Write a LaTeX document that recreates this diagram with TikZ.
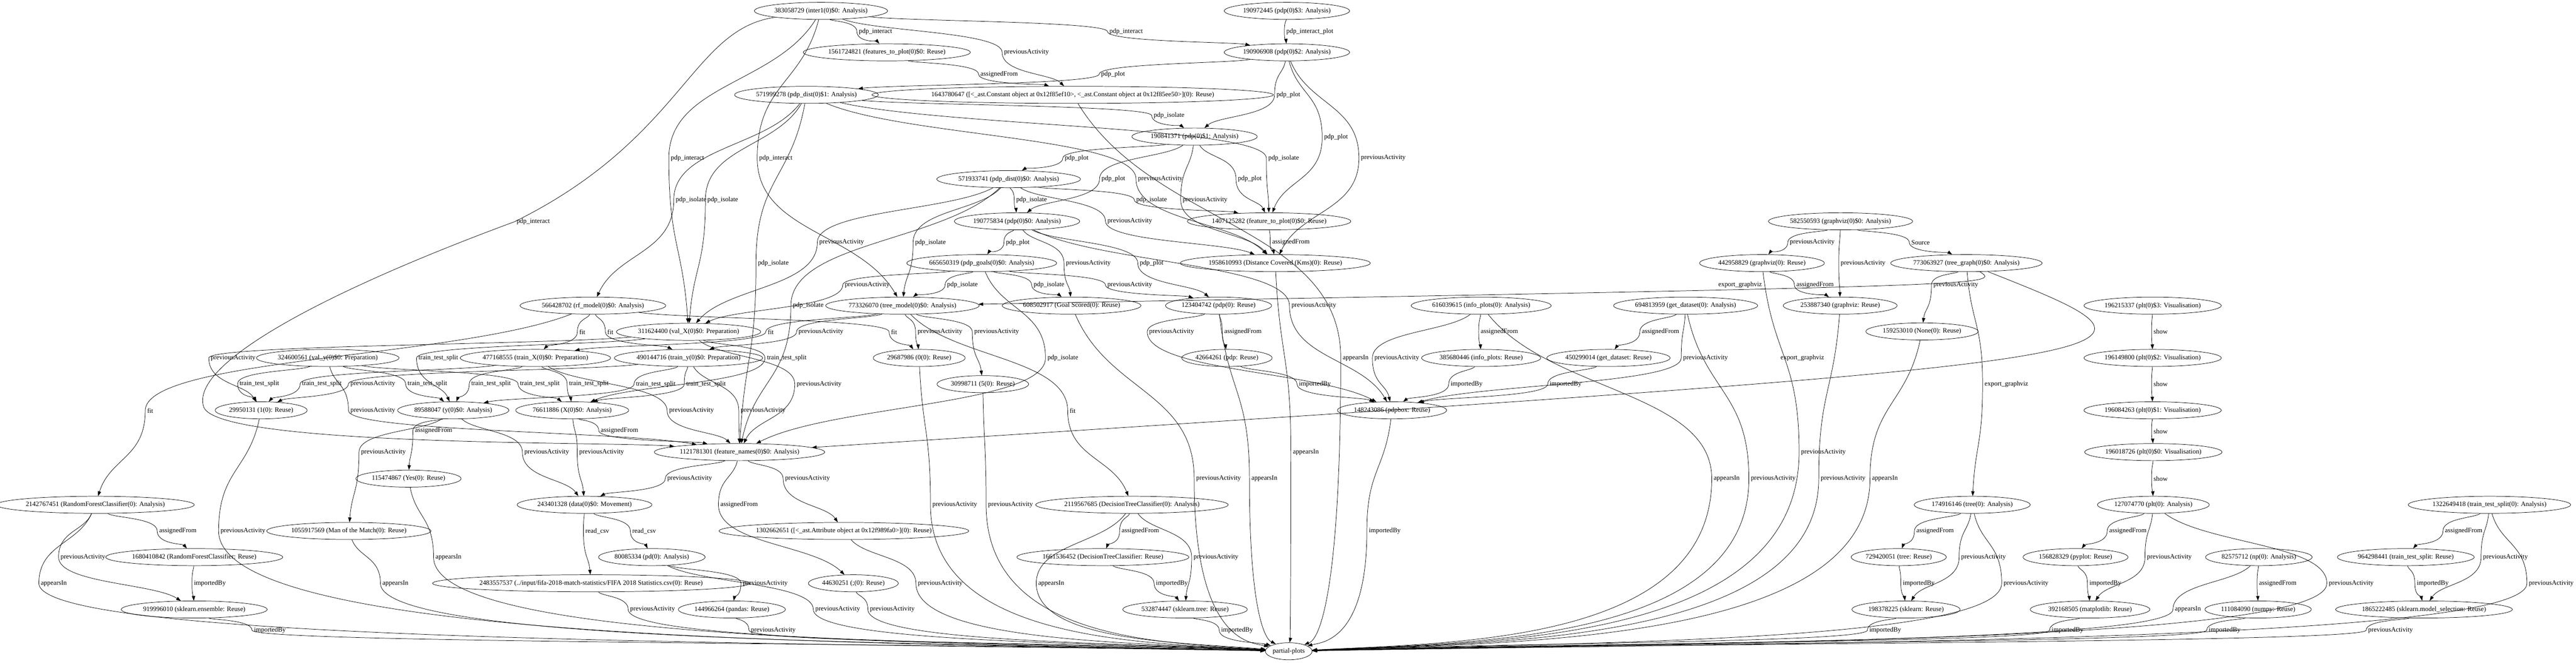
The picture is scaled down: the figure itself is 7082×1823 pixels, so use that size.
\documentclass[tikz,border=0pt]{standalone}
\usepackage{fontspec}
\setmainfont{Liberation Serif}
\usetikzlibrary{shapes.geometric, arrows.meta, calc}

\tikzset{
  gvnode/.style={ellipse, draw, line width=0.8pt, inner xsep=1pt, inner ysep=0pt,
    minimum height=36pt, minimum width=54pt, font=\fontsize{14pt}{16pt}\selectfont},
  gvlabel/.style={inner sep=1pt, font=\fontsize{14pt}{16pt}\selectfont},
  gvline/.style={line width=0.8pt, -{Triangle[length=10pt,width=7pt]}}
}

% an edge: source, target, label name, label position, label text
% (the curve runs down past the left end of its label)
\newcommand{\gvedge}[5]{%
  \node[gvlabel] (#3) at (#4) {#5};
  \coordinate (lw) at ($(#3.west)+(-4,0)$);
  \coordinate (m1) at ($(#1)!0.5!(lw)$);
  \coordinate (m2) at ($(lw)!0.5!(#2)$);
  \coordinate (q1) at ($(#1)!0.3!(lw)$);
  \coordinate (q2) at ($(#2)!0.3!(lw)$);
  \draw[gvline] (#1) .. controls (q1 |- m1) and (lw |- m1) .. (lw)
    .. controls (lw |- m2) and (q2 |- m2) .. (#2);}
% a long flat edge
\newcommand{\gvflat}[5]{%
  \node[gvlabel] (#3) at (#4) {#5};
  \draw[gvline] (#1) .. controls ($2*(#3.west)-0.5*(#1)-0.5*(#2)$) .. (#2);}
% an edge that ends in the partial-plots node
\newcommand{\gvsink}[4]{%
  \node[gvlabel] (#2) at (#3) {#4};
  \coordinate (lw) at ($(#2.west)+(-4,0)$);
  \coordinate (m1) at ($(#1)!0.5!(lw)$);
  \coordinate (q1) at ($(#1)!0.3!(lw)$);
  \coordinate (s1) at (lw |- pp.north);
  \draw[gvline] (#1) .. controls (q1 |- m1) and (lw |- m1) .. (lw)
    .. controls (s1) and ($(s1)!0.6!(pp.north)$) .. (pp);}

\begin{document}
\begin{tikzpicture}[x=0.766pt, y=-0.766pt]
    \useasboundingbox (0,0) rectangle (7082,1823);

    % the pdp activities at the top
    \node[gvnode] (inter1) at (2257,30) {383058729 (inter1(0)\$0: Analysis)};
    \node[gvnode] (pdp3) at (3538,30) {190972445 (pdp(0)\$3: Analysis)};
    \node[gvnode] (featsplot) at (2438,144) {1561724821 (features\_to\_plot(0)\$0: Reuse)};
    \node[gvnode] (pdp2) at (3538,144) {190906908 (pdp(0)\$2: Analysis)};
    \node[gvnode] (dist1) at (2217,261) {571999278 (pdp\_dist(0)\$1: Analysis)};
    \node[gvnode] (constlist) at (2949,261) {1643780647 ([<\_ast.Constant object at 0x12f85ef10>, <\_ast.Constant object at 0x12f85ee50>](0): Reuse)};
    \node[gvnode] (pdp1) at (3284,376) {190841371 (pdp(0)\$1: Analysis)};
    \node[gvnode] (dist0) at (2773,493) {571933741 (pdp\_dist(0)\$0: Analysis)};
    \node[gvnode] (pdp0) at (2796,609) {190775834 (pdp(0)\$0: Analysis)};
    \node[gvnode] (featplot) at (3489,609) {1407125282 (feature\_to\_plot(0)\$0: Reuse)};
    \node[gvnode] (distkms) at (3506,724) {1958610993 (Distance Covered (Kms)(0): Reuse)};
    \node[gvnode] (goals) at (2699,724) {665650319 (pdp\_goals(0)\$0: Analysis)};
    \node[gvnode] (treemodel) at (2481,841) {773326070 (tree\_model(0)\$0: Analysis)};
    \node[gvnode] (goal) at (2946,841) {608502917 (Goal Scored(0): Reuse)};
    \node[gvnode] (pdpr) at (3350,841) {123404742 (pdp(0): Reuse)};
    \node[gvnode] (zero) at (2527,985) {29687986 (0(0): Reuse)};
    \node[gvnode] (five) at (2702,1057) {30998711 (5(0): Reuse)};
    \node[gvnode] (pdpmod) at (3373,985) {42664261 (pdp: Reuse)};

    % graphviz, pdpbox and the plots on the right
    \node[gvnode] (gvz) at (5060,609) {582550593 (graphviz(0)\$0: Analysis)};
    \node[gvnode] (gvzr) at (4844,724) {442958829 (graphviz(0): Reuse)};
    \node[gvnode] (gvzmod) at (5059,841) {253887340 (graphviz: Reuse)};
    \node[gvnode] (treegraph) at (5406,724) {773063927 (tree\_graph(0)\$0: Analysis)};
    \node[gvnode] (nonev) at (5284,912) {159253010 (None(0): Reuse)};
    \node[gvnode] (infoan) at (4072,841) {616039615 (info\_plots(0): Analysis)};
    \node[gvnode] (getdsan) at (4634,841) {694813959 (get\_dataset(0): Analysis)};
    \node[gvnode] (infor) at (4072,985) {385680446 (info\_plots: Reuse)};
    \node[gvnode] (getdsr) at (4422,985) {450299014 (get\_dataset: Reuse)};
    \node[gvnode] (pdpbox) at (3827,1129) {148243086 (pdpbox: Reuse)};
    \node[gvnode] (plt3) at (5918,841) {196215337 (plt(0)\$3: Visualisation)};
    \node[gvnode] (plt2) at (5918,985) {196149800 (plt(0)\$2: Visualisation)};
    \node[gvnode] (plt1) at (5918,1129) {196084263 (plt(0)\$1: Visualisation)};
    \node[gvnode] (plt0) at (5920,1244) {196018726 (plt(0)\$0: Visualisation)};
    \node[gvnode] (pltan) at (5920,1389) {127074770 (plt(0): Analysis)};
    \node[gvnode] (treean) at (5422,1389) {174916146 (tree(0): Analysis)};
    \node[gvnode] (treemod) at (5220,1533) {729420051 (tree: Reuse)};
    \node[gvnode] (sklearn) at (5240,1677) {198378225 (sklearn: Reuse)};
    \node[gvnode] (pyplot) at (5706,1533) {156828329 (pyplot: Reuse)};
    \node[gvnode] (matplotlib) at (5746,1677) {392168505 (matplotlib: Reuse)};
    \node[gvnode] (npan) at (6210,1533) {82575712 (np(0): Analysis)};
    \node[gvnode] (numpy) at (6208,1677) {111084090 (numpy: Reuse)};
    \node[gvnode] (ttsan) at (6844,1389) {1322649418 (train\_test\_split(0): Analysis)};
    \node[gvnode] (ttsr) at (6614,1533) {964298441 (train\_test\_split: Reuse)};
    \node[gvnode] (modsel) at (6664,1677) {1865222485 (sklearn.model\_selection: Reuse)};

    % the models and the data on the left
    \node[gvnode] (rfmodel) at (1630,841) {566428702 (rf\_model(0)\$0: Analysis)};
    \node[gvnode] (valX) at (1893,913) {311624400 (val\_X(0)\$0: Preparation)};
    \node[gvnode] (trainy) at (1893,985) {490144716 (train\_y(0)\$0: Preparation)};
    \node[gvnode] (valy) at (901,985) {324600561 (val\_y(0)\$0: Preparation)};
    \node[gvnode] (trainX) at (1472,985) {477168555 (train\_X(0)\$0: Preparation)};
    \node[gvnode] (one) at (718,1129) {29950131 (1(0): Reuse)};
    \node[gvnode] (yan) at (1246,1129) {89588047 (y(0)\$0: Analysis)};
    \node[gvnode] (Xan) at (1573,1129) {76611886 (X(0)\$0: Analysis)};
    \node[gvnode] (featnames) at (2033,1244) {1121781301 (feature\_names(0)\$0: Analysis)};
    \node[gvnode] (yes) at (1123,1317) {115474867 (Yes(0): Reuse)};
    \node[gvnode] (rfc) at (262,1389) {2142767451 (RandomForestClassifier(0): Analysis)};
    \node[gvnode] (data) at (1607,1389) {243401328 (data(0)\$0: Movement)};
    \node[gvnode] (dtc) at (3112,1389) {2119567685 (DecisionTreeClassifier(0): Analysis)};
    \node[gvnode] (motm) at (959,1461) {1055917569 (Man of the Match(0): Reuse)};
    \node[gvnode] (attrlist) at (2320,1461) {1302662651 ([<\_ast.Attribute object at 0x12f989fa0>](0): Reuse)};
    \node[gvnode] (rfcr) at (534,1533) {1680410842 (RandomForestClassifier: Reuse)};
    \node[gvnode] (pdan) at (1792,1533) {80085334 (pd(0): Analysis)};
    \node[gvnode] (dtcr) at (3032,1533) {1661536452 (DecisionTreeClassifier: Reuse)};
    \node[gvnode] (csv) at (1625,1605) {2483557537 (../input/fifa-2018-match-statistics/FIFA 2018 Statistics.csv(0): Reuse)};
    \node[gvnode] (semi) at (2346,1605) {44630251 (;(0): Reuse)};
    \node[gvnode] (ensemble) at (534,1677) {919996010 (sklearn.ensemble: Reuse)};
    \node[gvnode] (pandas) at (2012,1677) {144966264 (pandas: Reuse)};
    \node[gvnode] (sktree) at (3258,1677) {532874447 (sklearn.tree: Reuse)};
    \node[gvnode] (pp) at (3543,1792) {partial-plots};

    % edges between the pdp activities
    \gvedge{inter1}{featsplot}{e1}{2407,87}{pdp\_interact}
    \gvedge{inter1}{pdp2}{e2}{3096,87}{pdp\_interact}
    \gvedge{pdp3}{pdp2}{e3}{3601,87}{pdp\_interact\_plot}
    \gvedge{inter1}{constlist}{e4}{2822,144}{previousActivity}
    \gvedge{featsplot}{constlist}{e5}{2747,204}{assignedFrom}
    \gvedge{pdp2}{dist1}{e6}{3060,204}{pdp\_plot}
    \gvedge{pdp2}{pdp1}{e7}{3542,261}{pdp\_plot}
    \gvedge{pdp2}{featplot}{e8}{3673,378}{pdp\_plot}
    \gvedge{pdp2}{distkms}{e9}{3803,435}{previousActivity}
    \gvedge{dist1}{pdp1}{e10}{3214,318}{pdp\_isolate}
    \gvedge{dist1}{featplot}{e11}{3529,435}{pdp\_isolate}
    \gvedge{inter1}{valX}{e12}{1890,435}{pdp\_interact}
    \gvedge{inter1}{treemodel}{e13}{2133,435}{pdp\_interact}
    % the long one round the left side
    \node[gvlabel] (e14) at (1466,610) {pdp\_interact};
    \draw[gvline] (inter1) .. controls (1900,80) and (1880,380) .. ($(e14.west)+(-4,0)$)
      .. controls (900,800) and (520,1000) .. (560,1120)
      .. controls (600,1230) and (1700,1215) .. (featnames);
    \gvedge{dist1}{valX}{e15}{1987,550}{pdp\_isolate}
    \gvedge{dist1}{rfmodel}{e16}{1900,550}{pdp\_isolate}
    \gvedge{dist1}{featnames}{e17}{2126,724}{pdp\_isolate}
    \gvedge{dist1}{distkms}{e18}{3190,492}{previousActivity}
    \gvedge{pdp1}{dist0}{e19}{2960,435}{pdp\_plot}
    \gvedge{pdp1}{pdp0}{e20}{3061,492}{pdp\_plot}
    \gvedge{pdp1}{featplot}{e21}{3436,492}{pdp\_plot}
    \gvedge{pdp1}{distkms}{e22}{3313,550}{previousActivity}
    \gvedge{dist0}{pdp0}{e23}{2836,550}{pdp\_isolate}
    \gvedge{dist0}{featplot}{e24}{3166,550}{pdp\_isolate}
    \gvedge{dist0}{distkms}{e25}{3106,608}{previousActivity}
    \gvedge{dist0}{valX}{e26}{2314,667}{previousActivity}
    \gvedge{dist0}{treemodel}{e27}{2558,667}{pdp\_isolate}
    \gvedge{dist0}{featnames}{e28}{2222,841}{pdp\_isolate}
    \gvedge{featplot}{distkms}{e29}{3549,667}{assignedFrom}
    \gvedge{pdp0}{goals}{e30}{2798,667}{pdp\_plot}
    \gvedge{pdp0}{goal}{e31}{2992,724}{previousActivity}
    \gvedge{pdp0}{pdpr}{e32}{3166,724}{pdp\_plot}
    \gvedge{pdp0}{pdpbox}{e33}{3612,841}{previousActivity}
    \gvedge{goals}{valX}{e34}{2384,784}{previousActivity}
    \gvedge{goals}{treemodel}{e35}{2646,784}{pdp\_isolate}
    \gvedge{goals}{goal}{e36}{2884,784}{pdp\_isolate}
    \gvedge{goals}{pdpr}{e37}{3106,784}{previousActivity}
    \gvedge{goals}{featnames}{e38}{2922,985}{pdp\_isolate}

    % graphviz and pdpbox
    \gvflat{treegraph}{treemodel}{e39}{4784,784}{export\_graphviz}
    \gvflat{treegraph}{featnames}{e40}{4955,985}{export\_graphviz}
    \gvedge{treegraph}{treean}{e41}{5516,1057}{export\_graphviz}
    \gvedge{treegraph}{nonev}{e42}{5377,784}{previousActivity}
    \gvedge{gvz}{treegraph}{e43}{5280,667}{Source}
    \gvedge{gvz}{gvzr}{e44}{4982,667}{previousActivity}
    \gvedge{gvz}{gvzmod}{e45}{5122,724}{previousActivity}
    \gvedge{gvzr}{gvzmod}{e46}{4990,784}{assignedFrom}
    \gvsink{gvzr}{e47}{5013,1244}{previousActivity}
    \gvsink{gvzmod}{e48}{5067,1317}{previousActivity}
    \gvsink{nonev}{e49}{5182,1317}{appearsIn}
    \gvedge{infoan}{infor}{e50}{4122,913}{assignedFrom}
    \gvedge{infoan}{pdpbox}{e51}{3840,985}{previousActivity}
    \gvsink{infoan}{e52}{4747,1317}{appearsIn}
    \gvedge{infor}{pdpbox}{e53}{4032,1057}{importedBy}
    \gvedge{getdsan}{getdsr}{e54}{4565,913}{assignedFrom}
    \gvedge{getdsan}{pdpbox}{e55}{4689,985}{previousActivity}
    \gvsink{getdsan}{e56}{4875,1317}{previousActivity}
    \gvedge{getdsr}{pdpbox}{e57}{4304,1057}{importedBy}
    \gvedge{pdpr}{pdpmod}{e58}{3417,913}{assignedFrom}
    \gvedge{pdpr}{pdpbox}{e59}{3221,913}{previousActivity}
    \gvsink{pdpr}{e60}{3476,1317}{appearsIn}
    \gvedge{pdpmod}{pdpbox}{e61}{3615,1057}{importedBy}
    \gvsink{pdpbox}{e62}{3807,1461}{importedBy}
    \gvsink{constlist}{e63}{3727,985}{appearsIn}
    \gvsink{distkms}{e64}{3590,1244}{appearsIn}
    \gvsink{goal}{e65}{3350,1317}{previousActivity}

    % the models
    \gvedge{treemodel}{dtc}{e66}{2949,1130}{fit}
    \gvedge{treemodel}{zero}{e67}{2584,913}{previousActivity}
    \gvedge{treemodel}{five}{e68}{2740,913}{previousActivity}
    \gvedge{treemodel}{trainX}{e69}{2119,913}{fit}
    \gvedge{treemodel}{trainy}{e70}{2257,913}{previousActivity}
    \gvedge{rfmodel}{trainX}{e71}{1601,913}{fit}
    \gvedge{rfmodel}{trainy}{e72}{1678,913}{fit}
    \gvedge{rfmodel}{rfc}{e73}{413,1130}{fit}
    \gvedge{rfmodel}{zero}{e74}{2458,913}{fit}

    % the train/test split
    \gvedge{valy}{one}{e75}{713,1056}{train\_test\_split}
    \gvedge{valy}{yan}{e76}{1175,1056}{train\_test\_split}
    \gvedge{valy}{Xan}{e77}{1484,1056}{train\_test\_split}
    \gvedge{trainX}{one}{e78}{885,1056}{train\_test\_split}
    \gvedge{trainX}{yan}{e79}{1350,1056}{train\_test\_split}
    \gvedge{trainX}{Xan}{e80}{1619,1056}{train\_test\_split}
    \gvedge{valX}{yan}{e81}{1205,985}{train\_test\_split}
    \gvedge{valX}{Xan}{e82}{2163,985}{train\_test\_split}
    \gvedge{valX}{one}{e83}{641,985}{previousActivity}
    \gvedge{trainy}{yan}{e84}{1803,1057}{train\_test\_split}
    \gvedge{trainy}{Xan}{e85}{1941,1057}{train\_test\_split}
    \gvedge{trainy}{one}{e86}{1025,1056}{previousActivity}
    \gvedge{valy}{featnames}{e87}{1025,1130}{previousActivity}
    \gvedge{trainX}{featnames}{e88}{1901,1130}{previousActivity}
    \gvedge{trainy}{featnames}{e89}{2098,1130}{previousActivity}
    \gvedge{valX}{featnames}{e90}{2252,1057}{previousActivity}

    % the data
    \gvedge{Xan}{data}{e91}{1654,1244}{previousActivity}
    \gvedge{Xan}{featnames}{e92}{1703,1185}{assignedFrom}
    \gvedge{yan}{motm}{e93}{1054,1244}{previousActivity}
    \gvedge{yan}{yes}{e94}{1192,1185}{assignedFrom}
    \gvedge{yan}{data}{e95}{1503,1244}{previousActivity}
    \gvedge{featnames}{data}{e96}{1896,1317}{previousActivity}
    \gvedge{featnames}{attrlist}{e97}{2220,1317}{previousActivity}
    \gvedge{featnames}{semi}{e98}{2032,1389}{assignedFrom}
    \gvedge{data}{csv}{e99}{1642,1461}{read\_csv}
    \gvedge{data}{pdan}{e100}{1771,1461}{read\_csv}
    \gvedge{pdan}{pandas}{e101}{2104,1605}{previousActivity}
    \gvsink{pdan}{e102}{2303,1677}{previousActivity}
    \gvsink{pandas}{e103}{2126,1734}{previousActivity}
    \gvsink{csv}{e104}{1794,1677}{previousActivity}
    \gvsink{semi}{e105}{2453,1677}{previousActivity}
    \gvsink{attrlist}{e106}{2585,1605}{previousActivity}
    \gvsink{zero}{e107}{2625,1389}{previousActivity}
    \gvsink{five}{e108}{2778,1389}{previousActivity}

    % the imports of the classifiers
    \gvedge{dtc}{dtcr}{e109}{3135,1461}{assignedFrom}
    \gvedge{dtc}{sktree}{e110}{3343,1533}{previousActivity}
    \gvsink{dtc}{e111}{2890,1605}{appearsIn}
    \gvedge{dtcr}{sktree}{e112}{3222,1605}{importedBy}
    \gvsink{sktree}{e113}{3401,1734}{importedBy}
    \gvedge{rfc}{rfcr}{e114}{489,1461}{assignedFrom}
    \gvedge{rfc}{ensemble}{e115}{228,1533}{previousActivity}
    \gvsink{rfc}{e116}{148,1605}{appearsIn}
    \gvedge{rfcr}{ensemble}{e117}{577,1605}{importedBy}
    \gvsink{ensemble}{e118}{742,1734}{importedBy}
    \gvsink{one}{e119}{668,1461}{previousActivity}
    \gvsink{motm}{e120}{1087,1605}{appearsIn}
    \gvsink{yes}{e121}{1233,1533}{appearsIn}

    % the other imports on the right
    \gvedge{treean}{treemod}{e122}{5320,1461}{assignedFrom}
    \gvedge{treean}{sklearn}{e123}{5453,1533}{previousActivity}
    \gvsink{treean}{e124}{5570,1605}{previousActivity}
    \gvedge{treemod}{sklearn}{e125}{5275,1605}{importedBy}
    \gvsink{sklearn}{e126}{5183,1734}{importedBy}
    \gvedge{pltan}{pyplot}{e127}{5850,1461}{assignedFrom}
    \gvedge{pltan}{matplotlib}{e128}{5964,1533}{previousActivity}
    \gvsink{pltan}{e129}{6464,1605}{previousActivity}
    \gvedge{pyplot}{matplotlib}{e130}{5788,1605}{importedBy}
    \gvsink{matplotlib}{e131}{5684,1734}{importedBy}
    \gvedge{npan}{numpy}{e132}{6262,1605}{assignedFrom}
    \gvsink{npan}{e133}{6015,1677}{appearsIn}
    \gvsink{numpy}{e134}{6116,1734}{importedBy}
    \gvedge{ttsan}{ttsr}{e135}{6773,1461}{assignedFrom}
    \gvedge{ttsan}{modsel}{e136}{6888,1533}{previousActivity}
    \gvsink{ttsan}{e137}{7014,1605}{previousActivity}
    \gvedge{ttsr}{modsel}{e138}{6688,1605}{importedBy}
    \gvsink{modsel}{e139}{6572,1734}{previousActivity}

    % the plt chain
    \gvedge{plt3}{plt2}{e140}{5940,912}{show}
    \gvedge{plt2}{plt1}{e141}{5940,1057}{show}
    \gvedge{plt1}{plt0}{e142}{5940,1187}{show}
    \gvedge{plt0}{pltan}{e143}{5940,1317}{show}
\end{tikzpicture}
\end{document}
